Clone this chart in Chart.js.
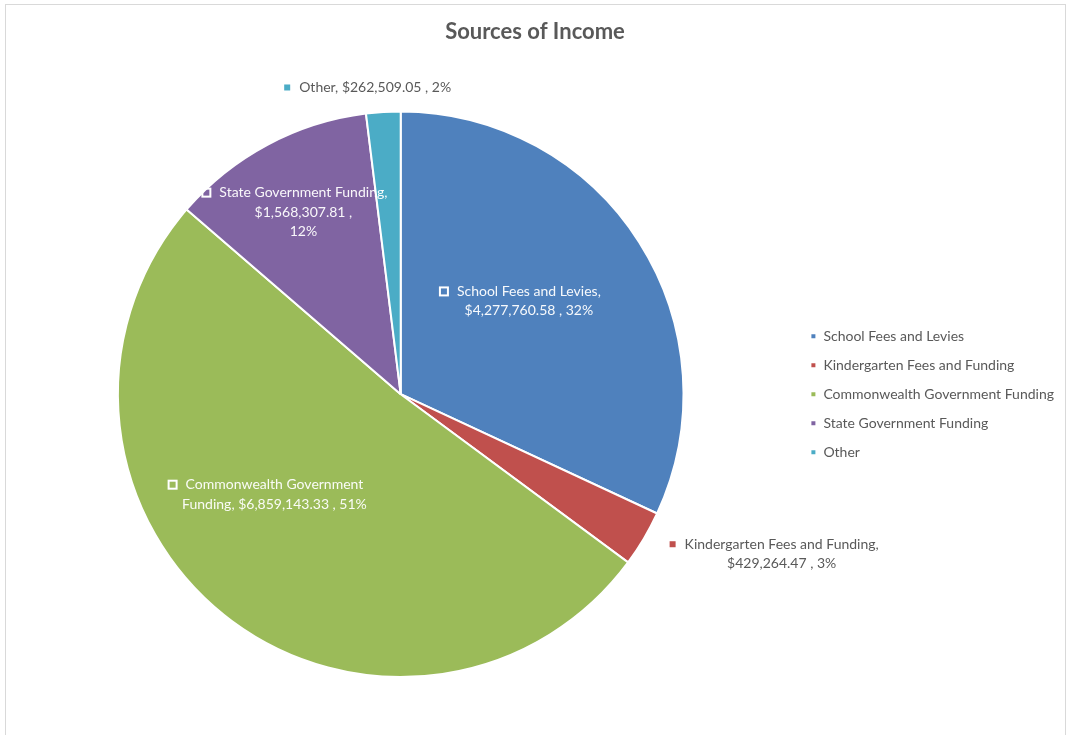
<!DOCTYPE html>
<html>
<head>
<meta charset="utf-8">
<script src="https://cdn.jsdelivr.net/npm/chart.js@4/dist/chart.umd.min.js"></script>
<style>
  html, body { margin: 0; padding: 0; background: #fff; overflow: hidden; }
  #frame { position: absolute; left: 5px; top: 4px; width: 1059px; height: 760px; border: 1px solid #d9d9d9; }
  #wrap { position: absolute; left: 0; top: 0; width: 1058px; height: 730px; }
</style>
</head>
<body>
<div id="frame"><div id="wrap"><canvas id="incomeChart"></canvas></div></div>
<script>
const categories = ['School Fees and Levies', 'Kindergarten Fees and Funding', 'Commonwealth Government Funding', 'State Government Funding', 'Other'];
const income = [4277760.58, 429264.47, 6859143.33, 1568307.81, 262509.05];
const sliceColors = ['#4F81BD', '#C0504D', '#9BBB59', '#8064A2', '#4BACC6'];

const fontFamily = "Lato, 'Open Sans', sans-serif";
const textGrey = '#595959';

// label placement per slice: inside/outside, where along the arc, how far out, words per row
const labelCfg = [
  { inside: true, at: 0.47, dist: 0.56, rows: [4, 3] },
  { inside: false, at: 0.5, gap: 30, rows: [4, 3] },
  { inside: true, at: 0.57, dist: 0.57, rows: [2, 4] },
  { inside: true, at: 0.5, dist: 0.73, rows: [3, 2, 1] },
  { inside: false, at: 0.1, gap: 16, rows: [7] },
];

function money(v) {
  return '$' + v.toLocaleString('en-US', { minimumFractionDigits: 2, maximumFractionDigits: 2 });
}

function labelLines(i, total) {
  const pct = Math.round(income[i] / total * 100) + '%';
  const words = `${categories[i]}, ${money(income[i])} , ${pct}`.split(' ');
  const lines = [];
  let k = 0;
  labelCfg[i].rows.forEach((n) => {
    lines.push(words.slice(k, k + n).join(' '));
    k += n;
  });
  return lines;
}

const sliceLabels = {
  id: 'sliceLabels',
  afterDatasetsDraw(chart) {
    const ctx = chart.ctx;
    const meta = chart.getDatasetMeta(0);
    const total = income.reduce((a, b) => a + b, 0);
    const lineH = 19.5;
    ctx.save();
    ctx.font = `14px ${fontFamily}`;
    ctx.textBaseline = 'middle';
    ctx.textAlign = 'center';
    meta.data.forEach((arc, i) => {
      const cfg = labelCfg[i];
      const { x, y, startAngle, endAngle, outerRadius } = arc.getProps(['x', 'y', 'startAngle', 'endAngle', 'outerRadius'], true);
      const a = startAngle + (endAngle - startAngle) * cfg.at;
      const dx = Math.cos(a), dy = Math.sin(a);
      const lines = labelLines(i, total);
      const widths = lines.map((l) => ctx.measureText(l).width);
      const maxW = Math.max(...widths);
      const blockH = lines.length * lineH;

      if (cfg.inside) {
        const cx = x + dx * outerRadius * cfg.dist;
        const cy = y + dy * outerRadius * cfg.dist;
        const top = cy - blockH / 2;
        ctx.fillStyle = 'rgba(255,255,255,0.95)';
        lines.forEach((l, j) => ctx.fillText(l, cx, top + lineH * (j + 0.5)));
        ctx.strokeStyle = '#fff';
        ctx.lineWidth = 2;
        ctx.strokeRect(cx - widths[0] / 2 - 17, top + lineH / 2 - 4, 8, 8);
      } else {
        const ax = x + dx * (outerRadius + cfg.gap);
        const ay = y + dy * (outerRadius + cfg.gap);
        const blockW = 15 + maxW;
        let left, top;
        if (dx > 0.5) {
          left = ax;
          top = ay - blockH / 2;
        } else {
          left = ax - blockW / 2;
          top = ay - blockH;
        }
        const tx = left + 15 + maxW / 2;
        ctx.fillStyle = textGrey;
        lines.forEach((l, j) => ctx.fillText(l, tx, top + lineH * (j + 0.5)));
        ctx.fillStyle = sliceColors[i];
        ctx.fillRect(tx - widths[0] / 2 - 15, top + lineH / 2 - 3, 6, 6);
      }
    });
    ctx.restore();
  },
};

new Chart(document.getElementById('incomeChart'), {
  type: 'pie',
  data: {
    labels: categories,
    datasets: [{
      data: income,
      backgroundColor: sliceColors,
      borderColor: '#fff',
      borderWidth: 2,
      hoverOffset: 0,
    }],
  },
  options: {
    responsive: true,
    maintainAspectRatio: false,
    animation: false,
    layout: { padding: { left: 0, right: 0, top: 0, bottom: 57 } },
    plugins: {
      title: {
        display: true,
        text: 'Sources of Income',
        color: textGrey,
        font: { family: fontFamily, size: 22, weight: 'bold' },
        padding: { top: 14, bottom: 65 },
      },
      legend: {
        position: 'right',
        fullSize: false,
        labels: {
          boxWidth: 6,
          boxHeight: 6,
          padding: 15,
          color: textGrey,
          font: { family: fontFamily, size: 14 },
        },
      },
      tooltip: { enabled: false },
    },
  },
  plugins: [sliceLabels],
});
</script>
</body>
</html>
